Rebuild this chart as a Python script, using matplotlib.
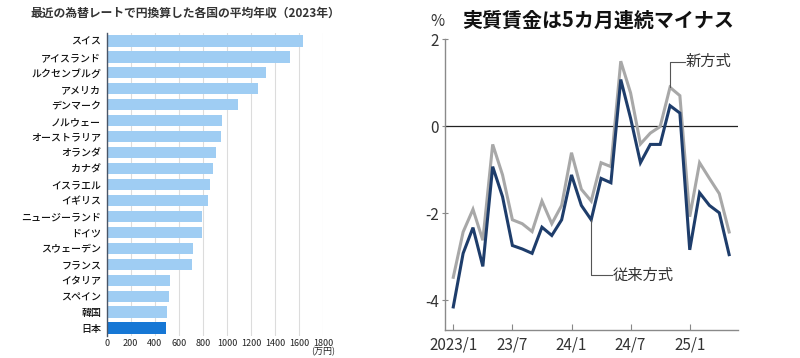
import matplotlib
matplotlib.use("Agg")
import matplotlib.pyplot as plt
import numpy as np

plt.rcParams['font.family'] = ['Noto Sans CJK JP', 'DejaVu Sans']

# ---- Left chart data ----
countries = ["スイス", "アイスランド", "ルクセンブルグ", "アメリカ", "デンマーク", "ノルウェー",
             "オーストラリア", "オランダ", "カナダ", "イスラエル", "イギリス", "ニュージーランド",
             "ドイツ", "スウェーデン", "フランス", "イタリア", "スペイン", "韓国", "日本"]
income = [1634, 1524, 1321, 1255, 1089, 956, 948, 908, 881, 859, 839, 792, 789, 720, 712, 529, 520, 499, 493]
income_ticks = [0, 200, 400, 600, 800, 1000, 1200, 1400, 1600, 1800]

# ---- Right chart data ----
months = list(range(29))  # 2023/1 .. 2025/5
old_method = [-4.15, -2.92, -2.33, -3.22, -0.93, -1.62, -2.74, -2.82, -2.92, -2.32,
              -2.51, -2.15, -1.12, -1.82, -2.15, -1.20, -1.30, 1.07, 0.18, -0.84,
              -0.42, -0.42, 0.47, 0.30, -2.84, -1.53, -1.82, -1.99, -2.95]
new_method = [-3.47, -2.43, -1.91, -2.62, -0.42, -1.12, -2.15, -2.24, -2.42, -1.72,
              -2.24, -1.82, -0.61, -1.45, -1.72, -0.84, -0.93, 1.49, 0.76, -0.41,
              -0.16, -0.01, 0.89, 0.70, -2.08, -0.84, -1.20, -1.55, -2.43]
xtick_pos = [0, 6, 12, 18, 24]
xtick_labels = ["2023/1", "23/7", "24/1", "24/7", "25/1"]
ytick_vals = [-4, -2, 0, 2]

fig = plt.figure(figsize=(8.0, 3.58), dpi=100)

# ---------------- Left: horizontal bars ----------------
ax1 = fig.add_axes([106.7/800, 1-336/358, (323.3-106.7)/800, (336-33)/358])
y = np.arange(len(countries))
colors = ["#9FCDF3"] * (len(countries) - 1) + ["#1677D5"]
ax1.barh(y, income, height=0.7, color=colors, zorder=2)
ax1.set_ylim(len(countries) - 0.5, -0.5)
ax1.set_xlim(0, 1800)
ax1.set_xticks(income_ticks)
ax1.set_xticklabels([str(v) for v in income_ticks], fontsize=6.5, color="#222")
ax1.set_yticks(y)
ax1.set_yticklabels(countries, fontsize=7.2, color="#111", fontweight="medium")
ax1.tick_params(axis='both', length=0, pad=4)
ax1.tick_params(axis='x', pad=2)
ax1.grid(axis='x', color="#dcdcdc", lw=0.8, zorder=0)
for s in ["top", "right", "bottom"]:
    ax1.spines[s].set_visible(False)
ax1.spines["left"].set_color("#4a5566")
ax1.spines["left"].set_linewidth(1.0)
ax1.spines["left"].set_zorder(3)
fig.text(323/800, 1-352/358, "(万円)", fontsize=6.5, color="#222", ha="center", va="center")
fig.text(30/800, 1-13/358, "最近の為替レートで円換算した各国の平均年収（2023年）",
         fontsize=8.5, fontweight="bold", color="#333", ha="left", va="center")

# ---------------- Right: line chart ----------------
ax2 = fig.add_axes([445/800, 1-330/358, (738-445)/800, (330-39)/358])
ax2.plot(months, new_method, color="#A8A8A8", lw=2.2, solid_joinstyle="miter", zorder=3)
ax2.plot(months, old_method, color="#1E3D6B", lw=2.2, solid_joinstyle="miter", zorder=4)
ax2.axhline(0, color="#222", lw=0.9, zorder=2)
ax2.set_xlim(-0.84, 28.9)
ax2.set_ylim(-4.68, 2.0)
ax2.set_xticks(xtick_pos)
ax2.set_xticklabels(xtick_labels, fontsize=11, color="#333")
ax2.set_yticks(ytick_vals)
ax2.set_yticklabels([str(v) for v in ytick_vals], fontsize=11, color="#333")
ax2.tick_params(axis='x', direction='in', length=4, color="#888", pad=5)
ax2.tick_params(axis='y', direction='inout', length=5, color="#888", pad=2)
for s in ["top", "right"]:
    ax2.spines[s].set_visible(False)
for s in ["left", "bottom"]:
    ax2.spines[s].set_color("#8a8a8a")
    ax2.spines[s].set_linewidth(1.0)

# annotations
i_new, i_old = 22, 14
ax2.plot([i_new, i_new, 23.5], [new_method[i_new], 1.48, 1.48], color="#555", lw=0.8, zorder=5)
ax2.text(23.6, 1.48, "新方式", fontsize=11, color="#333", ha="left", va="center")
ax2.plot([i_old, i_old, 16.1], [old_method[i_old], -3.42, -3.42], color="#555", lw=0.8, zorder=5)
ax2.text(16.2, -3.42, "従来方式", fontsize=11, color="#333", ha="left", va="center")

fig.text(437/800, 1-22/358, "%", fontsize=11, color="#333", ha="center", va="center")
fig.text(598/800, 1-20/358, "実質賃金は5カ月連続マイナス", fontsize=14.4, fontweight="bold",
         color="#111", ha="center", va="center")

fig.savefig("out.png", dpi=100)
